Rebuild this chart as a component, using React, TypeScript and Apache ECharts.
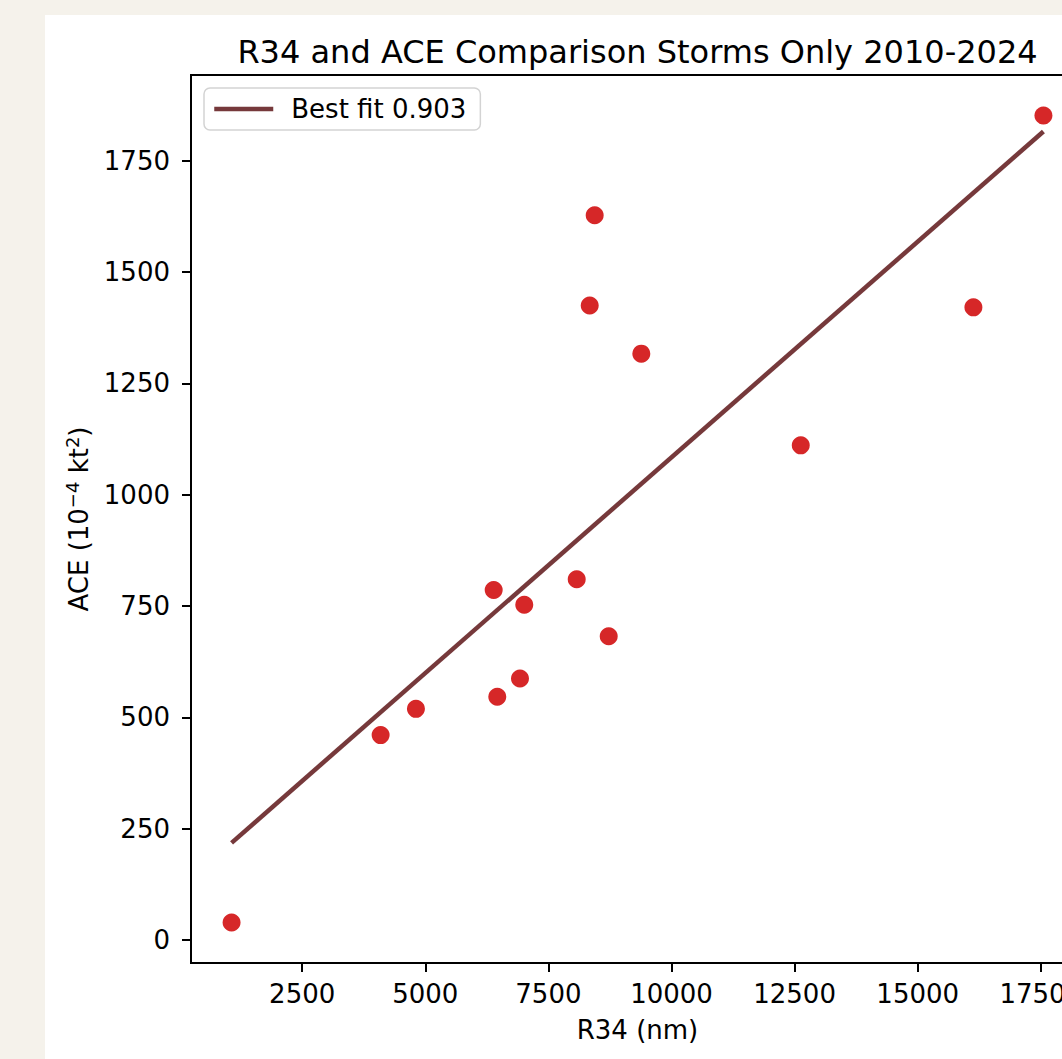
import React, { useEffect, useRef } from "react";
import * as echarts from "echarts";

// Storm sample: gale-force radius extent (R34) against accumulated cyclone energy
const r34 = [1066, 4093, 4810, 6389, 6462, 6923, 7010, 8075, 8339, 8440, 8725, 9387, 12625, 16131, 17553];
const ace = [39, 460, 519, 786, 546, 587, 753, 810, 1425, 1628, 682, 1317, 1111, 1421, 1852];

// Least-squares line end points
const fitR34 = [1066, 17553];
const fitAce = [218, 1816];
const fitLabel = "Best fit 0.903";

const xTicks = [2500, 5000, 7500, 10000, 12500, 15000, 17500];
const yTicks = [0, 250, 500, 750, 1000, 1250, 1500, 1750];
const xRange = [242, 18377];
const yRange = [-52, 1943];

const FONT = "DejaVu Sans";
const plain = (v: number) => String(Math.round(v));

export default function App() {
  const ref = useRef<HTMLDivElement>(null);

  useEffect(() => {
    if (!ref.current) return;
    const chart = echarts.init(ref.current, undefined, { renderer: "svg" });
    const points = r34.map((x, i) => [x, ace[i]]);
    const fit = fitR34.map((x, i) => [x, fitAce[i]]);

    chart.setOption({
      animation: false,
      backgroundColor: "transparent",
      textStyle: { fontFamily: FONT, color: "#000" },
      title: {
        text: "R34 and ACE Comparison Storms Only 2010-2024",
        left: "center",
        top: 31,
        textStyle: { fontFamily: FONT, fontSize: 32, fontWeight: "normal", color: "#000" },
      },
      legend: {
        data: [fitLabel],
        left: 204,
        top: 88,
        padding: [8, 14, 8, 8],
        itemWidth: 59,
        itemHeight: 26,
        borderColor: "#d3d3d3",
        borderWidth: 1.5,
        borderRadius: 6,
        backgroundColor: "rgba(255,255,255,0.85)",
        itemStyle: { color: "rgba(0,0,0,0)", borderWidth: 0, opacity: 0 },
        lineStyle: { color: "#76393b", width: 4.5 },
        textStyle: { fontFamily: FONT, fontSize: 26, color: "#000", padding: [0, 0, 0, 13] },
      },
      grid: {
        left: 191,
        top: 75,
        width: 893,
        height: 888,
        show: true,
        borderColor: "#000",
        borderWidth: 2,
        backgroundColor: "#fff",
      },
      xAxis: {
        type: "value",
        min: xRange[0],
        max: xRange[1],
        name: "R34 (nm)",
        nameLocation: "middle",
        nameGap: 54,
        nameTextStyle: { fontFamily: FONT, fontSize: 26, color: "#000" },
        splitLine: { show: false },
        axisLine: { show: true, onZero: false, lineStyle: { color: "#000", width: 2 } },
        axisTick: { show: true, length: 9, lineStyle: { color: "#000", width: 2 }, customValues: xTicks },
        axisLabel: {
          margin: 18,
          fontFamily: FONT,
          fontSize: 26,
          color: "#000",
          customValues: xTicks,
          formatter: plain,
        },
      },
      yAxis: {
        type: "value",
        min: yRange[0],
        max: yRange[1],
        name: "{n|ACE (10}{s|\u22124}{n| kt}{s|2}{n|)}",
        nameLocation: "middle",
        nameGap: 96,
        nameTextStyle: {
          fontFamily: FONT,
          fontSize: 26,
          color: "#000",
          rich: {
            n: { fontFamily: FONT, fontSize: 26, lineHeight: 32, color: "#000" },
            s: { fontFamily: FONT, fontSize: 18, lineHeight: 14, color: "#000", verticalAlign: "top" },
          },
        },
        splitLine: { show: false },
        axisLine: { show: true, onZero: false, lineStyle: { color: "#000", width: 2 } },
        axisTick: { show: true, length: 9, lineStyle: { color: "#000", width: 2 }, customValues: yTicks },
        axisLabel: {
          margin: 21,
          fontFamily: FONT,
          fontSize: 26,
          color: "#000",
          customValues: yTicks,
          formatter: plain,
        },
      },
      series: [
        {
          name: "storms",
          type: "scatter",
          data: points,
          symbolSize: 18,
          itemStyle: { color: "#d62728", opacity: 1 },
          z: 2,
        },
        {
          name: fitLabel,
          type: "line",
          data: fit,
          symbol: "none",
          lineStyle: { color: "#76393b", width: 4.5 },
          itemStyle: { color: "#76393b" },
          z: 3,
        },
      ],
    });

    return () => chart.dispose();
  }, []);

  return (
    <div
      style={{
        position: "fixed",
        left: 0,
        top: 0,
        width: 1062,
        height: 1059,
        overflow: "hidden",
        background: "#f5f2eb",
      }}
    >
      <div
        style={{
          position: "absolute",
          left: 45,
          top: 15,
          width: 1100,
          height: 1100,
          background: "#ffffff",
        }}
      />
      <div ref={ref} style={{ position: "absolute", left: 0, top: 0, width: 1275, height: 1059 }} />
    </div>
  );
}
